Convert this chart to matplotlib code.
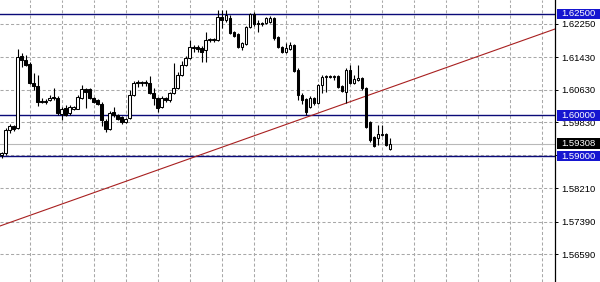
import numpy as np
import matplotlib
matplotlib.use('Agg')
import matplotlib.pyplot as plt
import matplotlib.transforms as mtransforms
from matplotlib.patches import Rectangle

plt.rcParams['font.family'] = ['Liberation Sans', 'DejaVu Sans']
plt.rcParams['lines.scale_dashes'] = False

# candles
opens = [1.5903, 1.5908, 1.5964, 1.5974, 1.5969, 1.6146, 1.6136, 1.6127, 1.6080, 1.6072,
         1.6035, 1.6033, 1.6038, 1.6045, 1.6043, 1.6004, 1.6018, 1.6006, 1.6016, 1.6016,
         1.6043, 1.6065, 1.6065, 1.6043, 1.6038, 1.6028, 1.5986, 1.5967, 1.6008, 1.6001,
         1.5996, 1.5984, 1.5994, 1.6050, 1.6082, 1.6080, 1.6082, 1.6080, 1.6055, 1.6043,
         1.6021, 1.6043, 1.6038, 1.6055, 1.6068, 1.6099, 1.6124, 1.6141, 1.6166, 1.6168,
         1.6166, 1.6161, 1.6186, 1.6188, 1.6186, 1.6242, 1.6235, 1.6240, 1.6205, 1.6200,
         1.6168, 1.6176, 1.6218, 1.6250, 1.6227, 1.6227, 1.6227, 1.6230, 1.6240, 1.6193,
         1.6168, 1.6156, 1.6163, 1.6173, 1.6112, 1.6050, 1.6040, 1.6021, 1.6043, 1.6031,
         1.6075, 1.6095, 1.6097, 1.6095, 1.6097, 1.6072, 1.6058, 1.6112, 1.6080, 1.6087,
         1.6092, 1.6068, 1.5984, 1.5947, 1.5944, 1.5952, 1.5954, 1.5917]
highs = [1.5910, 1.5969, 1.5979, 1.5976, 1.6163, 1.6154, 1.6149, 1.6131, 1.6104, 1.6099,
         1.6043, 1.6040, 1.6050, 1.6068, 1.6048, 1.6021, 1.6026, 1.6026, 1.6023, 1.6050,
         1.6075, 1.6068, 1.6068, 1.6045, 1.6040, 1.6033, 1.5991, 1.6011, 1.6021, 1.6004,
         1.5999, 1.5994, 1.6063, 1.6085, 1.6087, 1.6085, 1.6087, 1.6097, 1.6068, 1.6045,
         1.6048, 1.6045, 1.6058, 1.6129, 1.6107, 1.6134, 1.6146, 1.6186, 1.6173, 1.6173,
         1.6171, 1.6205, 1.6191, 1.6191, 1.6259, 1.6259, 1.6259, 1.6247, 1.6208, 1.6203,
         1.6181, 1.6220, 1.6252, 1.6254, 1.6235, 1.6230, 1.6242, 1.6245, 1.6242, 1.6195,
         1.6171, 1.6178, 1.6181, 1.6176, 1.6117, 1.6055, 1.6043, 1.6048, 1.6045, 1.6077,
         1.6099, 1.6099, 1.6099, 1.6099, 1.6099, 1.6075, 1.6117, 1.6124, 1.6099, 1.6124,
         1.6095, 1.6070, 1.5986, 1.5949, 1.5976, 1.5976, 1.5957, 1.5944]
lows = [1.5895, 1.5903, 1.5957, 1.5962, 1.5967, 1.6119, 1.6122, 1.6077, 1.6063, 1.6023,
        1.6031, 1.6028, 1.6035, 1.6038, 1.6001, 1.5989, 1.5999, 1.6001, 1.6013, 1.6016,
        1.6040, 1.6018, 1.6040, 1.6031, 1.6026, 1.5974, 1.5959, 1.5964, 1.5996, 1.5989,
        1.5979, 1.5981, 1.5991, 1.6048, 1.6070, 1.6072, 1.6072, 1.6053, 1.6026, 1.6008,
        1.6018, 1.6033, 1.6033, 1.6053, 1.6065, 1.6097, 1.6122, 1.6139, 1.6156, 1.6156,
        1.6131, 1.6131, 1.6181, 1.6181, 1.6183, 1.6215, 1.6230, 1.6200, 1.6193, 1.6166,
        1.6161, 1.6173, 1.6215, 1.6220, 1.6205, 1.6220, 1.6225, 1.6227, 1.6186, 1.6166,
        1.6154, 1.6154, 1.6161, 1.6107, 1.6038, 1.6028, 1.6001, 1.6018, 1.6026, 1.6028,
        1.6055, 1.6058, 1.6092, 1.6087, 1.6068, 1.6058, 1.6031, 1.6077, 1.6077, 1.6085,
        1.6063, 1.5969, 1.5935, 1.5922, 1.5927, 1.5949, 1.5925, 1.5915]
closes = [1.5908, 1.5964, 1.5974, 1.5967, 1.6144, 1.6136, 1.6124, 1.6080, 1.6072, 1.6033,
          1.6033, 1.6035, 1.6043, 1.6043, 1.6006, 1.6016, 1.6001, 1.6021, 1.6021, 1.6045,
          1.6065, 1.6058, 1.6043, 1.6033, 1.6028, 1.5989, 1.5967, 1.6006, 1.6001, 1.5991,
          1.5984, 1.5991, 1.6050, 1.6080, 1.6080, 1.6082, 1.6080, 1.6055, 1.6043, 1.6018,
          1.6043, 1.6038, 1.6055, 1.6068, 1.6099, 1.6124, 1.6141, 1.6168, 1.6168, 1.6163,
          1.6156, 1.6186, 1.6188, 1.6186, 1.6242, 1.6235, 1.6247, 1.6203, 1.6195, 1.6168,
          1.6178, 1.6218, 1.6250, 1.6225, 1.6225, 1.6225, 1.6240, 1.6240, 1.6191, 1.6168,
          1.6156, 1.6166, 1.6173, 1.6109, 1.6050, 1.6038, 1.6008, 1.6043, 1.6031, 1.6075,
          1.6095, 1.6097, 1.6095, 1.6097, 1.6070, 1.6060, 1.6112, 1.6080, 1.6090, 1.6092,
          1.6068, 1.5972, 1.5940, 1.5925, 1.5954, 1.5954, 1.5927, 1.59308]

levels = [1.62500, 1.60000, 1.59000]
last_price = 1.59308
ytick_vals = [1.62250, 1.61430, 1.60630, 1.59830, 1.59020, 1.58210, 1.57390, 1.56590]
trend_x = [-0.45, 138.4]
trend_y = [1.5728, 1.6213]

o = np.array(opens)
h = np.array(highs)
l = np.array(lows)
c = np.array(closes)
x = np.arange(len(o))

fig = plt.figure(figsize=(6, 2.82), dpi=100)
fig.patch.set_facecolor('white')
ax = fig.add_axes([0, 0, 555 / 600, 1])

ax.set_xlim(-0.425, 138.3)
ax.set_ylim(1.55903, 1.62840)

# grid
ax.set_xticks(np.arange(7.1, 138, 8))
ax.set_yticks(ytick_vals)
ax.set_yticklabels([f'{v:.5f}' for v in ytick_vals])
ax.grid(True, color='#a8a8a8', linestyle=(0, (2.2, 1.6)), linewidth=0.75, zorder=0)
ax.set_axisbelow(True)
ax.tick_params(axis='x', length=0, labelbottom=False)
ax.yaxis.tick_right()
ax.tick_params(axis='y', length=2.5, width=0.7, pad=1.8, labelsize=6.8, colors='black')
for s in ['left', 'top', 'bottom']:
    ax.spines[s].set_visible(False)
ax.spines['right'].set_linewidth(0.9)

# current price line
ax.axhline(last_price, color='#b8b8b8', linewidth=0.8, zorder=1)

# level lines
for lv in levels:
    ax.axhline(lv, color='#0a0a78', linewidth=1.0, zorder=2)

# trend line
ax.plot(trend_x, trend_y, color='#a82020', linewidth=0.8, zorder=2)

# candles
up = c >= o
body_lo = np.minimum(o, c)
body_h = np.maximum(np.abs(c - o), 0.00003)
ax.vlines(x, l, h, color='black', linewidth=0.8, zorder=3)
ax.bar(x[up], body_h[up], bottom=body_lo[up], width=0.62,
       facecolor='white', edgecolor='black', linewidth=0.75, zorder=4)
ax.bar(x[~up], body_h[~up], bottom=body_lo[~up], width=0.62,
       facecolor='black', edgecolor='black', linewidth=0.75, zorder=4)

# price labels on the right
trans = mtransforms.blended_transform_factory(ax.transAxes, ax.transData)
box_h = 0.00250
def price_tag(val, color):
    ax.add_patch(Rectangle((1.0036, val - box_h / 2), 43 / 555, box_h,
                           transform=trans, facecolor=color, edgecolor='none',
                           clip_on=False, zorder=6))
    ax.text(1.0105, val, f'{val:.5f}', transform=trans, color='white',
            fontsize=6.8, ha='left', va='center', clip_on=False, zorder=7)

for lv in levels:
    price_tag(lv, '#1616d0')
price_tag(last_price, 'black')

fig.savefig('out.png', dpi=100, facecolor='white')
